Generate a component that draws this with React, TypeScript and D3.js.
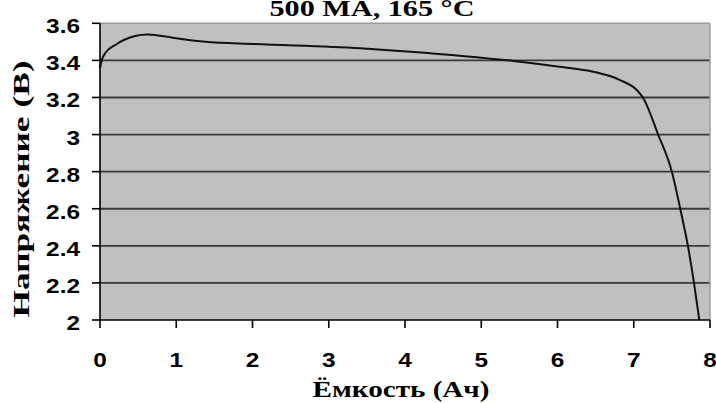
import React from "react";
import * as d3 from "d3";

const capacity = [0, 0.03, 0.08, 0.2, 0.46, 0.62, 0.81, 1.07, 1.38, 2.03, 3.41, 4.07, 5.42, 6.03, 6.47, 6.82, 7.04, 7.12, 7.32, 7.5, 7.61, 7.71, 7.79, 7.86];
const voltage = [3.36, 3.41, 3.445, 3.483, 3.531, 3.539, 3.531, 3.515, 3.5, 3.488, 3.465, 3.447, 3.397, 3.366, 3.339, 3.294, 3.24, 3.2, 3.0, 2.8, 2.6, 2.4, 2.2, 2.0];
const xTicks = [0, 1, 2, 3, 4, 5, 6, 7, 8];
const yTicks = [2, 2.2, 2.4, 2.6, 2.8, 3, 3.2, 3.4, 3.6];
const title = "500 МА, 165 °С";
const xTitle = "Ёмкость (Ач)";
const yTitle = "Напряжение (В)";

const W = 716, H = 403;
const L = 100, R = 710, T = 23.3, B = 320;

export default function App() {
  const x = d3.scaleLinear().domain([0, 8]).range([L, R]);
  const y = d3.scaleLinear().domain([2, 3.6]).range([B, T]);
  const pts = capacity.map((c, i) => [c, voltage[i]] as [number, number]);
  const line = d3.line<[number, number]>().x(d => x(d[0])).y(d => y(d[1])).curve(d3.curveMonotoneX);
  const tickFont = "'Liberation Sans', Arial, sans-serif";
  const serif = "'Liberation Serif', 'Times New Roman', serif";
  return (
    <svg width={W} height={H} style={{ position: "absolute", left: 0, top: 0, background: "#fff" }}>
      <rect x={L} y={T} width={R - L} height={B - T} fill="#c0c0c0" />
      {yTicks.filter(v => v > 2 && v < 3.6).map(v => (
        <line key={"g" + v} x1={L} x2={R} y1={y(v)} y2={y(v)} stroke="#3a3a3a" strokeWidth={1.8} />
      ))}
      <line x1={L} x2={R} y1={T} y2={T} stroke="#9a9a9a" strokeWidth={1.5} />
      <line x1={R} x2={R} y1={T} y2={B} stroke="#a0a0a0" strokeWidth={1.5} />
      <path d={line(pts) || ""} fill="none" stroke="#111" strokeWidth={2} />
      <line x1={L} x2={L} y1={T} y2={B} stroke="#000" strokeWidth={1.6} />
      <line x1={L} x2={R} y1={B} y2={B} stroke="#000" strokeWidth={1.6} />
      {yTicks.map(v => (
        <g key={"y" + v}>
          <line x1={L - 8} x2={L} y1={y(v)} y2={y(v)} stroke="#000" strokeWidth={1.6} />
          <text transform={`translate(80,${y(v) + 10}) scale(1.22,1)`} textAnchor="end" fontFamily={tickFont} fontWeight="bold" fontSize={20} fill="#000">
            {String(v)}
          </text>
        </g>
      ))}
      {xTicks.map(v => (
        <g key={"x" + v}>
          <line x1={x(v)} x2={x(v)} y1={B} y2={B + 8} stroke="#000" strokeWidth={1.6} />
          <text transform={`translate(${x(v)},367) scale(1.22,1)`} textAnchor="middle" fontFamily={tickFont} fontWeight="bold" fontSize={20} fill="#000">
            {String(v)}
          </text>
        </g>
      ))}
      <text x={372} y={16} textAnchor="middle" fontFamily={serif} fontWeight="bold" fontSize={23} textLength={205} lengthAdjust="spacingAndGlyphs">{title}</text>
      <text x={401} y={397} textAnchor="middle" fontFamily={serif} fontWeight="bold" fontSize={24} textLength={177} lengthAdjust="spacingAndGlyphs">{xTitle}</text>
      <text transform="translate(29,189) rotate(-90)" textAnchor="middle" fontFamily={serif} fontWeight="bold" fontSize={23} textLength={257} lengthAdjust="spacingAndGlyphs">{yTitle}</text>
    </svg>
  );
}
